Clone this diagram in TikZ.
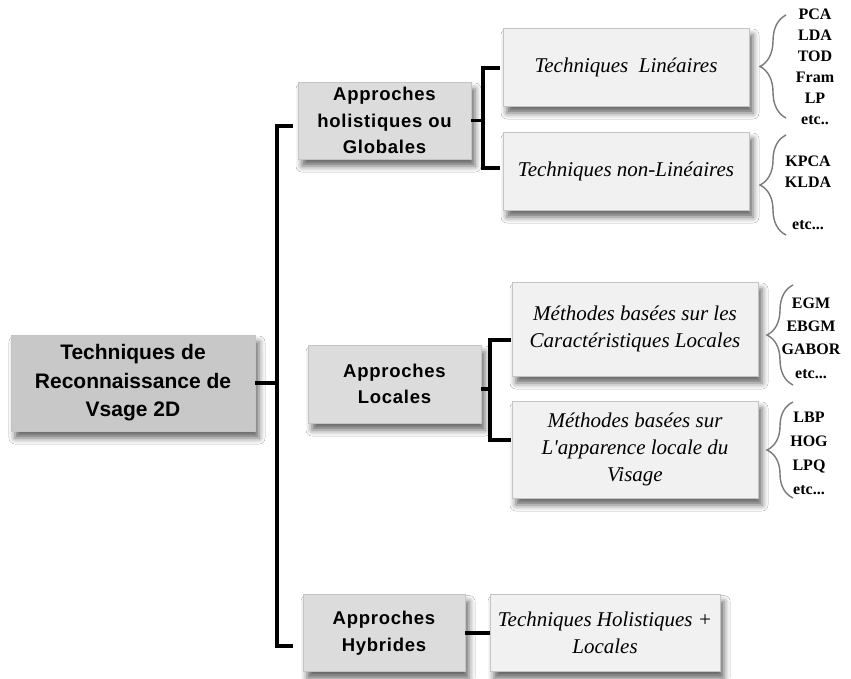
\documentclass[tikz,border=0pt]{standalone}
\usepackage{fontspec}
\usetikzlibrary{shadows.blur,decorations.pathreplacing}

\newfontfamily\rootfont{Liberation Sans}
\newfontfamily\appfont{Liberation Sans}[LetterSpace=4]
\newfontfamily\techfont{Liberation Serif}
\newfontfamily\labfont{Liberation Serif}

\definecolor{rootfill}{HTML}{C8C8C8}
\definecolor{appfill}{HTML}{DCDCDC}
\definecolor{techfill}{HTML}{F1F1F1}
\definecolor{boxline}{HTML}{C4C4C4}
\definecolor{bracecol}{HTML}{7A7A7A}

\begin{document}
\begin{tikzpicture}[x=1pt,y=-1pt,
  box/.style={draw=boxline, line width=0.8pt, inner sep=0pt, align=center,
    blur shadow={shadow xshift=4pt, shadow yshift=-7pt,
                 shadow blur radius=6pt, shadow opacity=60}},
  rootbox/.style={box, fill=rootfill,
    font=\rootfont\bfseries\fontsize{21}{28.5}\selectfont},
  appbox/.style={box, fill=appfill,
    font=\appfont\bfseries\fontsize{18.5}{26.5}\selectfont},
  techbox/.style={box, fill=techfill,
    font=\techfont\itshape\fontsize{21}{27}\selectfont},
  conn/.style={line width=3.6pt},
  curly/.style={decorate, decoration={brace, amplitude=26pt},
    draw=bracecol, line width=1.4pt},
  list/.style={align=center, inner sep=0pt}
]
\fill[white] (0,0) rectangle (851,678);
\useasboundingbox (0,0) rectangle (851,678);

% root of the tree
\node[rootbox, minimum width=244pt, minimum height=96pt] (root) at (133,383)
  {Techniques de\\Reconnaissance de\\Vsage 2D};

% the three families of approaches
\node[appbox, minimum width=173pt, minimum height=77pt] (hol) at (384.5,120.5)
  {Approches\\holistiques ou\\Globales};
\node[appbox, minimum width=173pt, minimum height=78pt] (loc) at (394.5,384)
  {Approches\\Locales};
\node[appbox, minimum width=162pt, minimum height=77pt] (hyb) at (384,633)
  {Approches\\Hybrides};

% technique boxes
\node[techbox, minimum width=246pt, minimum height=78pt] (lin) at (626,67)
  {Techniques\ \ Linéaires};
\node[techbox, minimum width=246pt, minimum height=78pt] (nlin) at (626,171)
  {Techniques non-Linéaires};
\node[techbox, minimum width=246pt, minimum height=94pt] (car) at (635,329)
  {Méthodes basées sur les\\Caractéristiques Locales};
\node[techbox, minimum width=246pt, minimum height=97pt] (app) at (635,449.5)
  {Méthodes basées sur\\L'apparence locale du\\Visage};
\node[techbox, minimum width=230pt, minimum height=77pt] (th) at (605,633)
  {Techniques Holistiques +\\Locales};

% main trunk
\coordinate (trunk) at (277,0);
\coordinate (holIn) at ([shift={(-5,5.5)}]hol.west);
\coordinate (hybIn) at ([shift={(-10,13)}]hyb.west);
\draw[conn] (root.east) -- (root.east -| trunk);
\draw[conn] (holIn) -- (holIn -| trunk) -- (hybIn -| trunk) -- (hybIn);

% fork of the holistic approaches
\coordinate (fork1) at (483,0);
\coordinate (linIn) at ([shift={(-3,1)}]lin.west);
\coordinate (nlinIn) at ([shift={(-3,-3)}]nlin.west);
\draw[conn] (hol.east) -- (hol.east -| fork1);
\draw[conn] (linIn) -- (linIn -| fork1) -- (nlinIn -| fork1) -- (nlinIn);

% fork of the local approaches
\coordinate (fork2) at (490,0);
\coordinate (locOut) at ([shift={(0,5)}]loc.east);
\coordinate (carIn) at ([shift={(-1,11)}]car.west);
\coordinate (appIn) at ([shift={(-1,-9.5)}]app.west);
\draw[conn] (locOut) -- (locOut -| fork2);
\draw[conn] (carIn) -- (carIn -| fork2) -- (appIn -| fork2) -- (appIn);

% hybrid link
\draw[conn] (hyb.east) -- (th.west);

% braces
\draw[curly] (786,118) -- (786,15);
\draw[curly] (786,235) -- (786,135);
\draw[curly] (793,385) -- (793,285);
\draw[curly] (793,498) -- (793,402);

% method lists
\node[list, font=\labfont\bfseries\fontsize{16}{21}\selectfont] (l1) at (815,67)
  {PCA\\LDA\\TOD\\Fram\\LP\\etc..};
\node[list, font=\labfont\bfseries\fontsize{16}{21}\selectfont] (l2) at (808,193)
  {KPCA\\KLDA\\~\\etc...};
\node[list, font=\labfont\bfseries\fontsize{16}{23.3}\selectfont] (l3) at (811,338)
  {EGM\\EBGM\\GABOR\\etc...};
\node[list, font=\labfont\bfseries\fontsize{16}{24}\selectfont] (l4) at (809,453)
  {LBP\\HOG\\LPQ\\etc...};
\end{tikzpicture}
\end{document}
